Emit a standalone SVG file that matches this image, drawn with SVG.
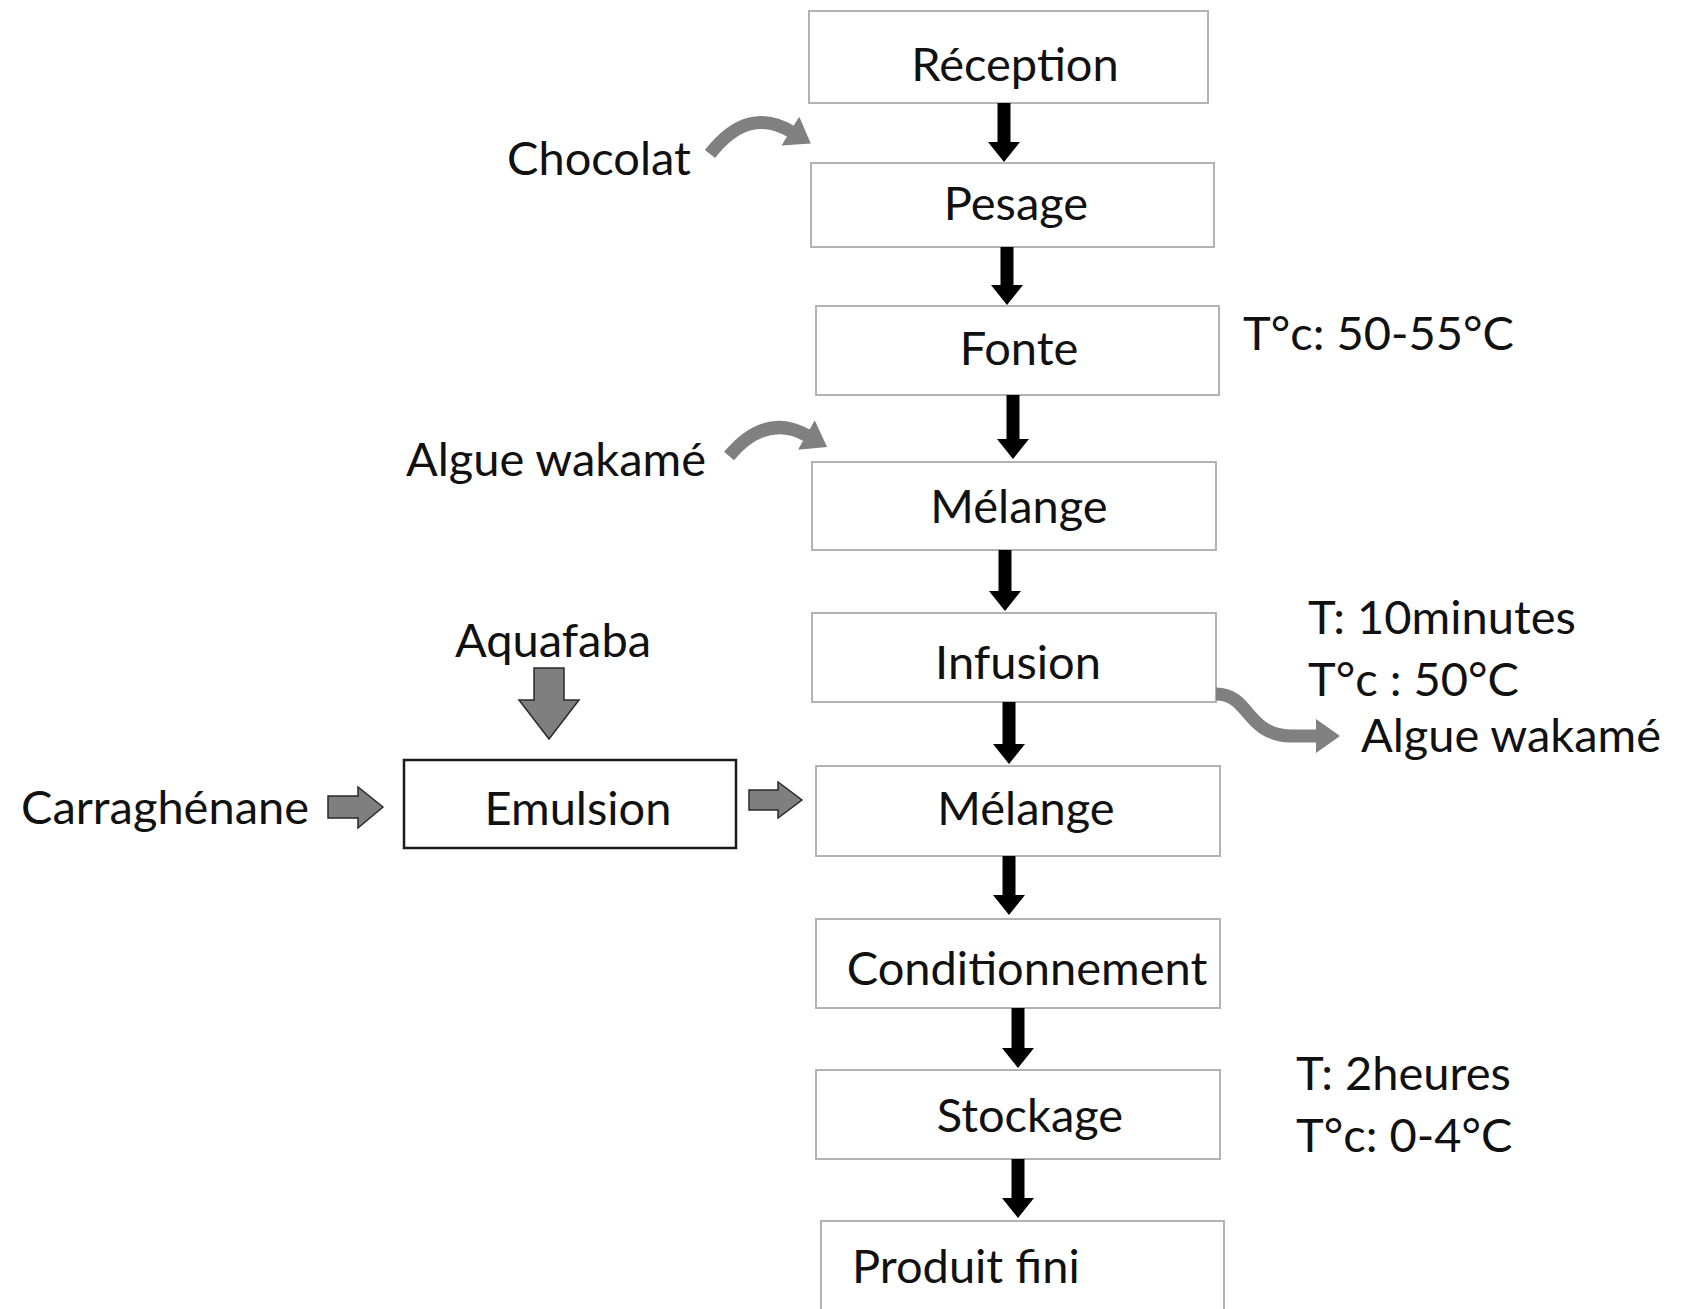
<svg xmlns="http://www.w3.org/2000/svg" width="1684" height="1309" viewBox="0 0 1684 1309">
<style>
.box{fill:#fff;stroke:#b3b3b3;stroke-width:2}
.ebox{fill:#fff;stroke:#1a1a1a;stroke-width:2.5}
.t{font-family:Lato,"Open Sans","Liberation Sans",sans-serif;font-size:47px;fill:#111}
.c{text-anchor:middle}
.blk{stroke:#000;stroke-width:13;fill:none}
.gry{stroke:#808080;stroke-width:13;fill:none}
.blockarrow{fill:#7f7f7f;stroke:#2a2a2a;stroke-width:1.5}
</style>
<defs>
<marker id="bh" viewBox="0 0 20 32" markerWidth="20" markerHeight="32" refX="1" refY="16" orient="auto" markerUnits="userSpaceOnUse"><path d="M0,0 L20,16 L0,32 z" fill="#000"/></marker>
<marker id="gh" viewBox="0 0 24 34" markerWidth="24" markerHeight="34" refX="2" refY="17" orient="auto" markerUnits="userSpaceOnUse"><path d="M0,0 L24,17 L0,34 z" fill="#808080"/></marker>
</defs>
<rect width="1684" height="1309" fill="#fff"/>
<g id="reception"><rect class="box" x="809" y="11" width="399" height="92"/><text class="t c" x="1015" y="81">Réception</text></g>
<g id="pesage"><rect class="box" x="811" y="163" width="403" height="84"/><text class="t c" x="1016" y="220">Pesage</text></g>
<g id="fonte"><rect class="box" x="816" y="306" width="403" height="89"/><text class="t c" x="1019" y="365">Fonte</text></g>
<g id="melange1"><rect class="box" x="812" y="462" width="404" height="88"/><text class="t c" x="1019" y="523">Mélange</text></g>
<g id="infusion"><rect class="box" x="812" y="613" width="404" height="89"/><text class="t c" x="1018" y="679">Infusion</text></g>
<g id="melange2"><rect class="box" x="816" y="766" width="404" height="90"/><text class="t c" x="1026" y="825">Mélange</text></g>
<g id="conditionnement"><rect class="box" x="816" y="919" width="404" height="89"/><text class="t c" x="1027" y="985">Conditionnement</text></g>
<g id="stockage"><rect class="box" x="816" y="1070" width="404" height="89"/><text class="t c" x="1030" y="1132">Stockage</text></g>
<g id="produit"><rect class="box" x="821" y="1221" width="403" height="110"/><text class="t" x="852" y="1283">Produit fini</text></g>
<g id="emulsion"><rect class="ebox" x="404" y="760" width="332" height="88"/><text class="t c" x="578" y="825">Emulsion</text></g>
<g id="labels">
<text class="t c" x="599" y="175">Chocolat</text>
<text class="t" x="1243" y="350">T°c: 50-55°C</text>
<text class="t" x="406" y="476">Algue wakamé</text>
<text class="t c" x="553" y="657">Aquafaba</text>
<text class="t" x="1308" y="634">T: 10minutes</text>
<text class="t" x="1308" y="696">T°c : 50°C</text>
<text class="t" x="1361" y="752">Algue wakamé</text>
<text class="t" x="21" y="824">Carraghénane</text>
<text class="t" x="1296" y="1090">T: 2heures</text>
<text class="t" x="1296" y="1152">T°c: 0-4°C</text>
</g>
<g id="connectors">
<line class="blk" x1="1004" y1="103" x2="1004" y2="143" marker-end="url(#bh)"/>
<line class="blk" x1="1007" y1="247" x2="1007" y2="286" marker-end="url(#bh)"/>
<line class="blk" x1="1013" y1="395" x2="1013" y2="440" marker-end="url(#bh)"/>
<line class="blk" x1="1005" y1="550" x2="1005" y2="592" marker-end="url(#bh)"/>
<line class="blk" x1="1009" y1="702" x2="1009" y2="745" marker-end="url(#bh)"/>
<line class="blk" x1="1009" y1="856" x2="1009" y2="896" marker-end="url(#bh)"/>
<line class="blk" x1="1018" y1="1008" x2="1018" y2="1049" marker-end="url(#bh)"/>
<line class="blk" x1="1018" y1="1159" x2="1018" y2="1199" marker-end="url(#bh)"/>
<path class="gry" d="M710 154 Q748 105 792 132" marker-end="url(#gh)"/>
<path class="gry" d="M729 456 Q766 412 808 436" marker-end="url(#gh)"/>
<path class="gry" d="M1216 694 C1250 694 1245 734 1290 736 L1318 736" marker-end="url(#gh)"/>
<polygon class="blockarrow" points="534,668 564,668 564,700 579,700 549,739 519,700 534,700"/>
<polygon class="blockarrow" points="328,796 358,796 358,787 383,807 358,828 358,818 328,818"/>
<polygon class="blockarrow" points="749,790 778,790 778,782 802,800 778,818 778,810 749,810"/>
</g>
</svg>
